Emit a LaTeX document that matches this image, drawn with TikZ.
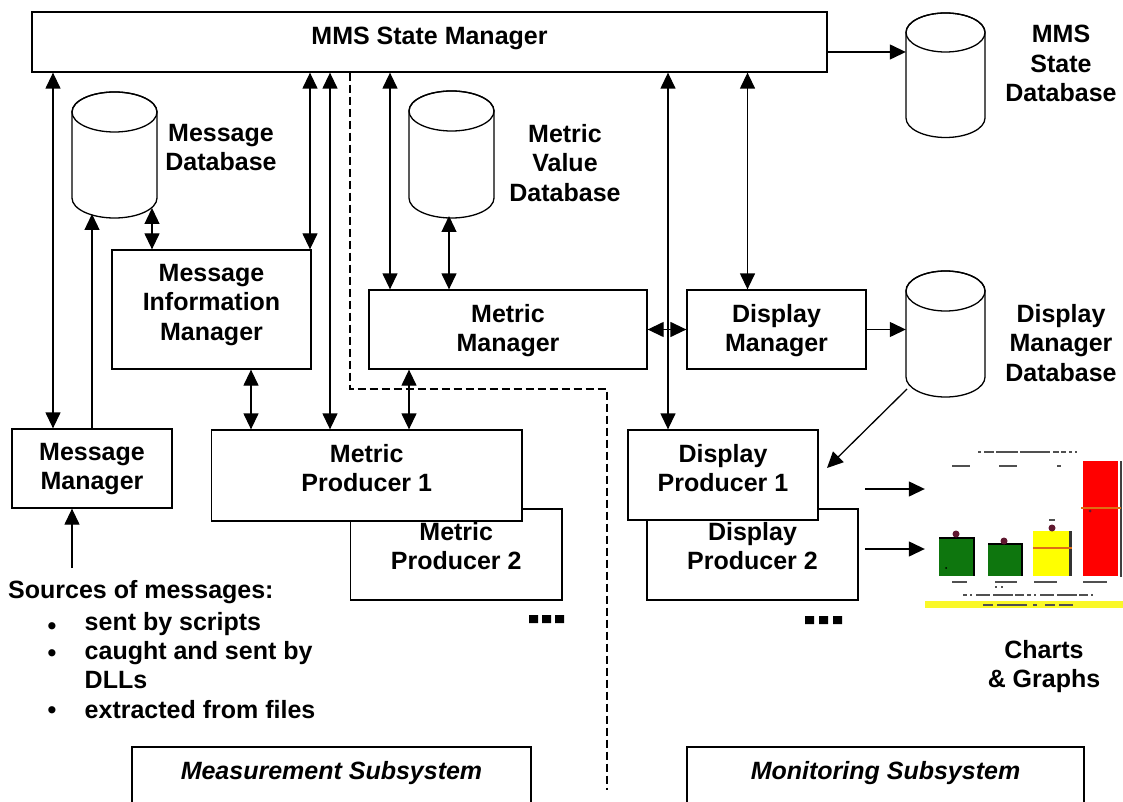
\documentclass[tikz,border=0pt]{standalone}
\usepackage{fontspec}
\setmainfont{Liberation Sans}
\usetikzlibrary{arrows.meta,calc}

\definecolor{barGreen}{RGB}{14,118,14}
\definecolor{barRed}{RGB}{255,0,0}
\definecolor{barYellow}{RGB}{255,255,0}
\definecolor{barMark}{RGB}{222,110,20}
\definecolor{barDot}{RGB}{96,24,48}
\definecolor{stripYellow}{RGB}{250,248,40}
\definecolor{inkGray}{RGB}{80,80,80}

% cylinder outline: centre x, top ellipse y, bottom ellipse y, x radius, y radius
\newcommand\dbcylinder[5]{%
  \draw[wire,fill=white] (#1-#4,#2) -- (#1-#4,#3)
    arc[start angle=180,end angle=360,x radius=#4pt,y radius=#5pt]
    -- (#1+#4,#2)
    arc[start angle=0,end angle=180,x radius=#4pt,y radius=#5pt] -- cycle;
  \draw[wire] (#1,#2) ellipse[x radius=#4pt,y radius=#5pt];
}

\begin{document}
\begin{tikzpicture}[x=1pt,y=-1pt,
  font=\bfseries\fontsize{25}{29.5}\selectfont,
  >={Triangle[length=16pt,width=15pt]},
  wire/.style={line width=1.3pt},
  box/.style={draw,line width=1.3pt,fill=white,inner sep=0pt},
  area/.style={inner sep=0pt},
  lbl/.style={anchor=north,inner sep=0pt,align=center},
  itemtext/.style={anchor=base west,inner sep=0pt},
  bullet/.style={anchor=base,inner sep=0pt},
  divider/.style={line width=1.2pt,dash pattern=on 8pt off 4pt},
  blur/.style={line width=2.8pt,inkGray},
  sq/.style={fill=black,draw=none}]

\useasboundingbox (0,0) rectangle (1123,802);
\fill[white] (0,0) rectangle (1123,802);

\begin{scope}
\clip (0,0) rectangle (1123,802);

% ---------- helper positions ----------
\coordinate (x53)  at (53,0);
\coordinate (x72)  at (72,0);
\coordinate (x92)  at (92,0);
\coordinate (x251) at (251,0);
\coordinate (x310) at (310,0);
\coordinate (x330) at (330,0);
\coordinate (x350) at (350,0);
\coordinate (x390) at (390,0);
\coordinate (x409) at (409,0);
\coordinate (x668) at (668,0);
\coordinate (x747) at (747.5,0);
\coordinate (y52)  at (0,52);

% ---------- state manager bar ----------
\node[box,minimum width=795,minimum height=60] (mms) at (429.5,42) {};
\node[lbl] (mms-t) at (429.5,27) {MMS State Manager};

% ---------- subsystem divider ----------
\draw[divider] (mms.south -| x350) -- (350,389) -- (607,389) -- (607,790);

% ---------- databases ----------
\node[area,minimum width=85,minimum height=126] (msgdb) at (114.5,155) {};
\dbcylinder{114.5}{112}{198}{42.5}{20}
\node[lbl] (msgdb-t) at (221,124) {Message\\Database};

\node[area,minimum width=85,minimum height=127] (mvdb) at (451.5,154.5) {};
\dbcylinder{451.5}{111}{198}{42.5}{20}
\node[lbl] (mvdb-t) at (565,124) {Metric\\Value\\Database};

\node[area,minimum width=79,minimum height=125] (mmsdb) at (945.5,75.5) {};
\dbcylinder{945.5}{32.5}{118}{39.5}{19.5}
\node[lbl] (mmsdb-t) at (1061,25) {MMS\\State\\Database};

\node[area,minimum width=79,minimum height=126] (dmdb) at (945.5,334) {};
\dbcylinder{945.5}{291}{377}{39.5}{20}
\node[lbl] (dmdb-t) at (1061,304) {Display\\Manager\\Database};

% ---------- managers ----------
\node[box,minimum width=199,minimum height=119] (mim) at (211.5,309.5) {};
\node[lbl] (mim-t) at (211.5,264) {Message\\Information\\Manager};

\node[box,minimum width=278,minimum height=79] (mm) at (508,329.5) {};
\node[lbl] (mm-t) at (508,304) {Metric\\Manager};

\node[box,minimum width=179,minimum height=79] (dm) at (776.5,329.5) {};
\node[lbl] (dm-t) at (776.5,304) {Display\\Manager};

\node[box,minimum width=160,minimum height=79] (msgmgr) at (92,468.5) {};
\node[lbl] (msgmgr-t) at (92,443) {Message\\Manager};

% ---------- producers ----------
\node[box,minimum width=211.5,minimum height=91] (mp2) at (456.25,554.5) {};
\node[lbl] (mp2-t) at (456.25,522) {Metric\\Producer 2};
\node[box,minimum width=310.5,minimum height=91] (mp1) at (366.75,475.5) {};
\node[lbl] (mp1-t) at (366.75,444) {Metric\\Producer 1};

\node[box,minimum width=211,minimum height=91] (dp2) at (752.5,554.5) {};
\node[lbl] (dp2-t) at (752.5,522) {Display\\Producer 2};
\node[box,minimum width=190,minimum height=90] (dp1) at (723,475) {};
\node[lbl] (dp1-t) at (723,444) {Display\\Producer 1};

% more producers follow
\fill[sq] (529,615) rectangle ++(9,8) (542,615) rectangle ++(9,8) (555,615) rectangle ++(9,8);
\fill[sq] (805,616) rectangle ++(9,8) (819,616) rectangle ++(9,8) (833,616) rectangle ++(9,8);

% ---------- subsystem boxes ----------
\node[box,minimum width=399,minimum height=90] (meas) at (331.5,792) {};
\node[lbl,font=\bfseries\itshape\fontsize{25}{29.5}\selectfont] (meas-t) at (331.5,761) {Measurement Subsystem};
\node[box,minimum width=397,minimum height=90] (mon) at (885.5,792) {};
\node[lbl,font=\bfseries\itshape\fontsize{25}{29.5}\selectfont] (mon-t) at (885.5,761) {Monitoring Subsystem};

% ---------- message sources ----------
\node[anchor=north west,inner sep=0pt] (srcs) at (8,580.5) {Sources of messages:};
\node[bullet] (b1) at (52,634.5) {•};
\node[itemtext] (s1) at (84.5,630) {sent by scripts};
\node[bullet] (b2) at (52,661.5) {•};
\node[itemtext] (s2) at (84.5,659) {caught and sent by};
\node[itemtext] (s3) at (84.5,688) {DLLs};
\node[bullet] (b3) at (52,718.5) {•};
\node[itemtext] (s4) at (84.5,718) {extracted from files};
\coordinate (srcTop) at (72,568);

% ---------- chart ----------
\node[area,minimum width=198,minimum height=158] (chart) at (1024,529) {};
\draw[blur,dash pattern=on 3pt off 3pt on 10pt off 2pt on 22pt off 2pt on 30pt off 3pt on 6pt off 2pt on 5pt off 3pt]
  (978,452) -- (1077,452);
\draw[blur,line width=2.2pt] (952,466) -- (970,466) (999,466) -- (1017,466) (1057,466) -- (1061,466);
\fill[barRed] (1083,461) rectangle (1118,576);
\draw[line width=2pt,black!75] (1120.5,461) -- (1120.5,577);
\draw[line width=1.6pt,barMark] (1081,508) -- (1121,508);
\fill[barDot] (1090,511) circle[radius=1.5pt];
\fill[barGreen] (939,538) rectangle (974,576);
\draw[line width=1.6pt,black] (939,538) -- (974,538) -- (974,576);
\fill[barDot] (956,534) circle[radius=3.5pt];
\fill[black] (946,568) circle[radius=1pt];
\fill[barGreen] (988,544) rectangle (1022,576);
\draw[line width=1.6pt,black] (988,544) -- (1022,544) -- (1022,576);
\fill[barDot] (1004,541) circle[radius=3.5pt];
\fill[barYellow] (1033,531) rectangle (1069,576);
\draw[line width=2.4pt,black!80] (1070.5,531) -- (1070.5,576);
\draw[line width=1.6pt,barMark] (1033,548) -- (1072,548);
\fill[barDot] (1052,528) circle[radius=3.5pt];
\draw[blur,line width=2.2pt] (1049,520) -- (1055,520);
\draw[blur,line width=2.2pt] (952,582) -- (967,582) (995,582) -- (1017,582) (1034,582) -- (1057,582) (1083,582) -- (1107,582);
\draw[blur,line width=1.8pt,dash pattern=on 2pt off 4pt] (995,587) -- (1006,587);
\draw[blur,line width=2.4pt,dash pattern=on 4pt off 3pt on 2pt off 4pt on 14pt off 3pt on 20pt off 2pt on 9pt off 3pt]
  (963,595) -- (1093,595);
\fill[stripYellow] (925,601) rectangle (1123,608);
\draw[blur,line width=1.6pt,dash pattern=on 10pt off 4pt on 30pt off 6pt on 4pt off 8pt] (983,605) -- (1073,605);
\node[lbl] (chart-t) at (1044,640) {Charts\\\& Graphs};

% ---------- connectors ----------
\draw[wire,<->] (mms.south -| x53) -- (msgmgr.north -| x53);
\coordinate (mdbA) at (92,214);
\draw[wire,->] (msgmgr.north -| x92) -- (mdbA);
\coordinate (mdbB) at (152,208);
\draw[wire,<->] (mdbB) -- (mim.north -| mdbB);
\draw[wire,<->] (mms.south -| x310) -- (mim.north -| x310);
\draw[wire,<->] (mms.south -| x330) -- (mp1.north -| x330);
\draw[wire,<->] (mim.south -| x251) -- (mp1.north -| x251);
\draw[wire,<->] (mms.south -| x390) -- (mm.north -| x390);
\coordinate (vdbA) at (449,216);
\draw[wire,<->] (vdbA) -- (mm.north -| vdbA);
\draw[wire,<->] (mm.south -| x409) -- (mp1.north -| x409);
\draw[wire,<->] (mms.south -| x668) -- (dp1.north -| x668);
\draw[wire,<->] (mms.south -| x747) -- (dm.north -| x747);
\draw[wire,<->] (mm.east) -- (dm.west);
\draw[wire,->] (mms.east |- y52) -- (mmsdb.west |- y52);
\draw[wire,->] (dm.east) -- (dmdb.west |- dm.east);
\coordinate (ddbLL) at (907,389);
\coordinate (dp1In) at (827,468);
\draw[wire,->] (ddbLL) -- (dp1In);
\coordinate (p489) at (865,489);
\coordinate (p549) at (865,549);
\draw[wire,->] (p489) -- (chart.west |- p489);
\draw[wire,->] (p549) -- (chart.west |- p549);
\draw[wire,->] (srcTop) -- (msgmgr.south -| srcTop);

\end{scope}
\end{tikzpicture}
\end{document}
